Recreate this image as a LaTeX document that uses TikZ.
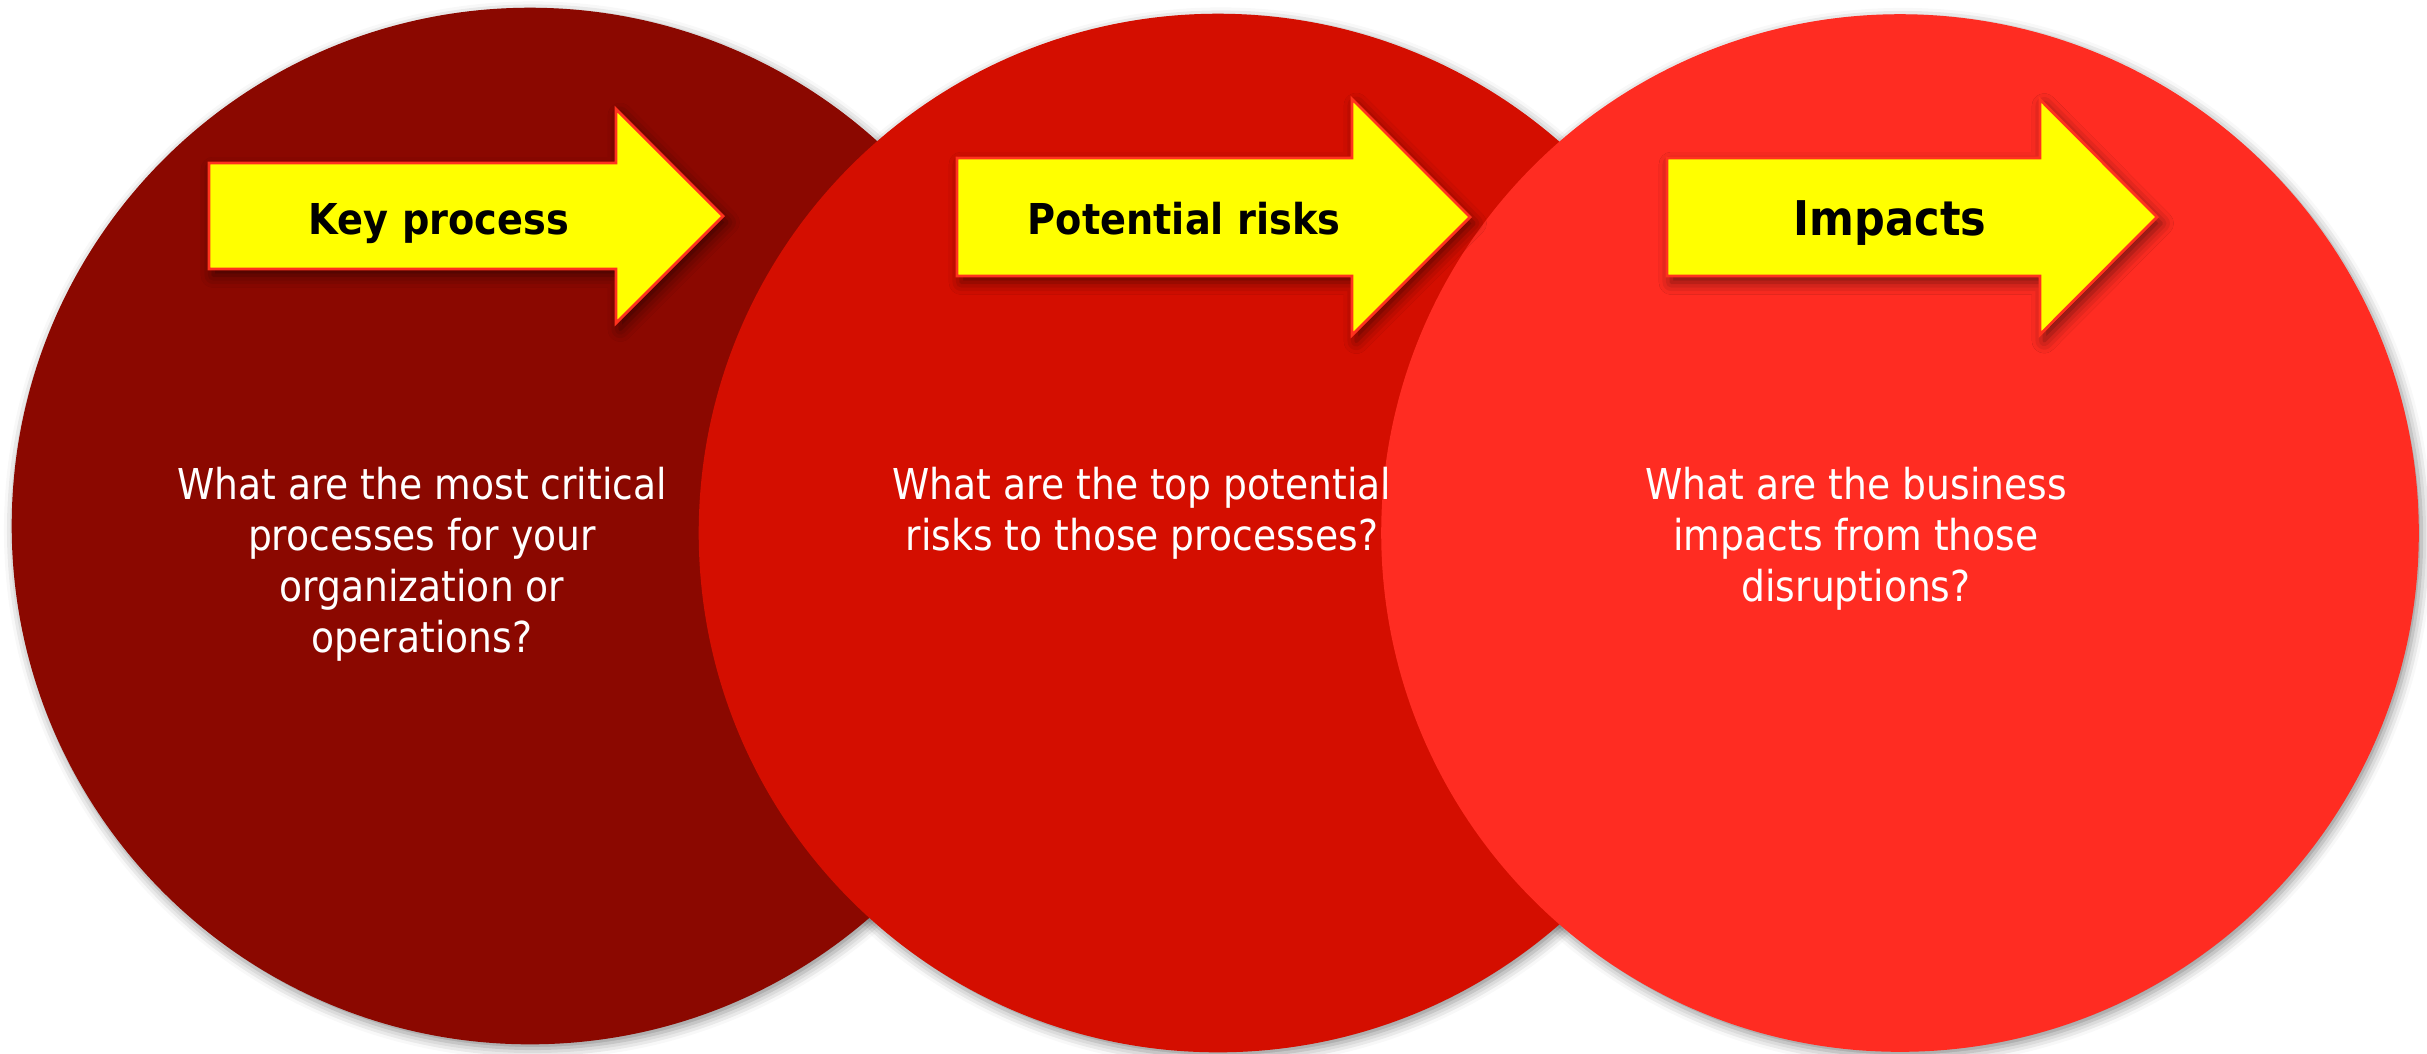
\documentclass[tikz,border=0pt]{standalone}
\usepackage{fontspec}
\setmainfont{DejaVu Sans}[FakeStretch=0.885, BoldFeatures={FakeStretch=0.9}]
\usetikzlibrary{shadows.blur}

\definecolor{discone}{RGB}{139,8,0}
\definecolor{disctwo}{RGB}{212,14,0}
\definecolor{discthree}{RGB}{255,44,34}
\definecolor{arrowfill}{RGB}{255,255,0}
\definecolor{arrowedge}{RGB}{255,50,30}

\tikzset{
  discshadow/.style={blur shadow={shadow xshift=0.8pt, shadow yshift=-1.2pt,
      shadow blur radius=3pt, shadow opacity=45}},
  arrowshape/.style={fill=arrowfill, draw=arrowedge, line width=0.8pt, line join=miter,
      blur shadow={shadow xshift=1.2pt, shadow yshift=-1.8pt,
      shadow blur radius=3.5pt, shadow opacity=55}},
  headline/.style={inner sep=0pt, text=black, font=\bfseries\fontsize{12.1}{14}\selectfont},
  question/.style={inner sep=0pt, text=white, align=center,
      font=\fontsize{12.1}{14.5}\selectfont}
}

% block arrow: left x, head base x, tip x, centre y, shaft half height, head half height
\newcommand{\flowarrow}[6]{%
  \path[arrowshape] (#1,#4-#5) -- (#2,#4-#5) -- (#2,#4-#6) -- (#3,#4)
    -- (#2,#4+#6) -- (#2,#4+#5) -- (#1,#4+#5) -- cycle;}

\begin{document}
\begin{tikzpicture}[x=0.01cm, y=-0.01cm]
  \useasboundingbox (0,0) rectangle (2427,1053);

  % disc centres
  \coordinate (c1) at (530,526);
  \coordinate (c2) at (1218,533);
  \coordinate (c3) at (1900,533);

  % soft shadows under the three discs
  \path[discshadow] (c1) circle [radius=5.18cm];
  \path[discshadow] (c2) circle [radius=5.19cm];
  \path[discshadow] (c3) circle [radius=5.185cm];

  % overlapping discs, left to right
  \fill[discone]   (c1) circle [radius=5.18cm];
  \fill[disctwo]   (c2) circle [radius=5.19cm];
  \fill[discthree] (c3) circle [radius=5.185cm];

  % yellow block arrows
  \flowarrow{209}{616}{723}{216}{53}{107}
  \flowarrow{957}{1352}{1470}{217}{59}{118}
  \flowarrow{1667}{2040}{2157}{217}{59}{117.5}

  % arrow captions
  \node[headline, anchor=base] (t1) at (439,234) {Key process};
  \node[headline, anchor=base] (t2) at (1184,234) {Potential risks};
  \node[headline, anchor=base, font=\bfseries\fontsize{13.6}{15}\selectfont] (t3) at (1890,235) {Impacts};

  % questions inside the discs
  \node[question, anchor=north] (q1) at (422,466)
    {What are the most critical\\processes for your\\organization or\\operations?};
  \node[question, anchor=north] (q2) at (1142,466)
    {What are the top potential\\risks to those processes?};
  \node[question, anchor=north] (q3) at (1856,466)
    {What are the business\\impacts from those\\disruptions?};
\end{tikzpicture}
\end{document}
